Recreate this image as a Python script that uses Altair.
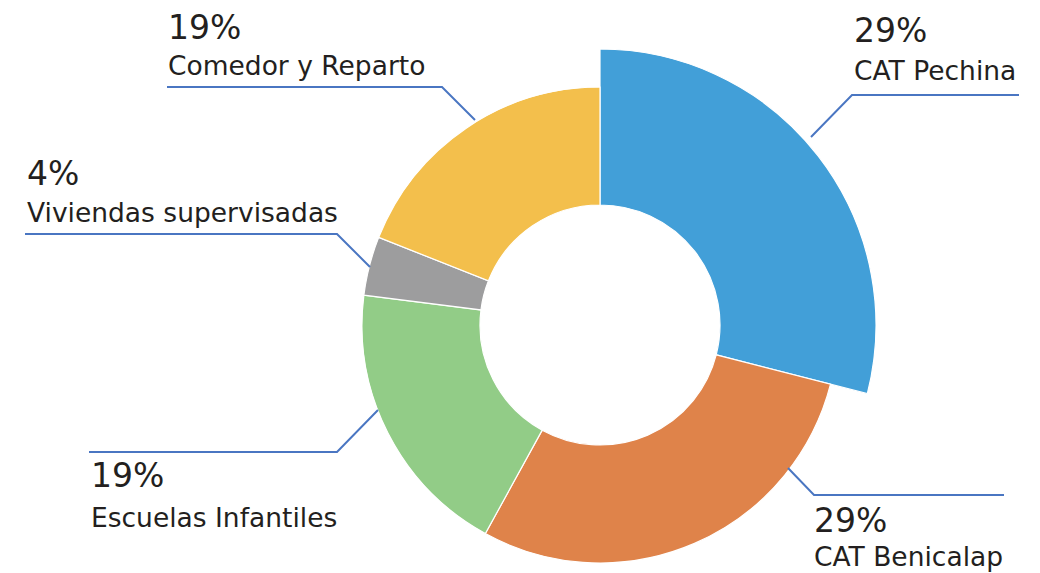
import altair as alt
import pandas as pd

# ---- data ----
categories = ["CAT Pechina", "CAT Benicalap", "Escuelas Infantiles",
              "Viviendas supervisadas", "Comedor y Reparto"]
values = [29, 29, 19, 4, 19]
colors = ["#429FD8", "#DF834A", "#92CC87", "#9D9D9E", "#F3BF4C"]
highlight = "CAT Pechina"

# ---- layout (page pixels; chart drawn with 8px page margin) ----
M = 8
CX, CY = 600 - M, 325 - M
R_IN, R_OUT, R_EXPL = 120, 238, 276

leader_pts = {
    "CAT Pechina": [(811, 137), (852, 95), (1019, 95)],
    "CAT Benicalap": [(788, 468), (814, 495), (1004, 495)],
    "Escuelas Infantiles": [(378, 410), (337, 452), (89, 452)],
    "Viviendas supervisadas": [(370, 267), (337, 234), (25, 234)],
    "Comedor y Reparto": [(475, 120), (442, 87), (167, 87)],
}
text_pos = {  # (x, pct baseline, label baseline)
    "CAT Pechina": (854, 42, 80),
    "CAT Benicalap": (814, 532, 566),
    "Escuelas Infantiles": (91, 487, 527),
    "Viviendas supervisadas": (27, 185, 222),
    "Comedor y Reparto": (168, 39, 75),
}

df = pd.DataFrame({"category": categories, "value": values,
                   "idx": list(range(len(categories)))})

lines = []
for c in categories:
    for i, (x, y) in enumerate(leader_pts[c]):
        lines.append({"category": c, "i": i, "x": x - M, "y": y - M})
lines_df = pd.DataFrame(lines)

pct_rows, lab_rows = [], []
for c, v in zip(categories, values):
    x, yp, yl = text_pos[c]
    pct_rows.append({"t": f"{v}%", "x": x - M, "y": yp - M})
    lab_rows.append({"t": c, "x": x - M, "y": yl - M})
pct_df = pd.DataFrame(pct_rows)
lab_df = pd.DataFrame(lab_rows)

color = alt.Color("category:N", scale=alt.Scale(domain=categories, range=colors), legend=None)
theta = alt.Theta("value:Q", stack=True)
order = alt.Order("idx:Q")

big = alt.Chart(df).mark_arc(innerRadius=R_IN, outerRadius=R_EXPL, stroke="white", strokeWidth=1.2).encode(
    theta=theta, color=color, order=order,
    x=alt.value(CX), y=alt.value(CY),
    opacity=alt.condition(alt.datum.category == highlight, alt.value(1), alt.value(0)),
)
rest = alt.Chart(df).mark_arc(innerRadius=R_IN, outerRadius=R_OUT, stroke="white", strokeWidth=1.2).encode(
    theta=theta, color=color, order=order,
    x=alt.value(CX), y=alt.value(CY),
    opacity=alt.condition(alt.datum.category == highlight, alt.value(0), alt.value(1)),
)

leaders = alt.Chart(lines_df).mark_line(color="#4A76C2", strokeWidth=2).encode(
    x=alt.X("x:Q", scale=None), y=alt.Y("y:Q", scale=None),
    detail="category:N", order="i:Q",
)

font = "DejaVu Sans"
pct = alt.Chart(pct_df).mark_text(align="left", baseline="alphabetic", font=font,
                                  fontSize=33, color="#231F20").encode(
    x=alt.X("x:Q", scale=None), y=alt.Y("y:Q", scale=None), text="t:N")
lab = alt.Chart(lab_df).mark_text(align="left", baseline="alphabetic", font=font,
                                  fontSize=26.5, color="#231F20").encode(
    x=alt.X("x:Q", scale=None), y=alt.Y("y:Q", scale=None), text="t:N")

chart = alt.layer(big, rest, leaders, pct, lab).properties(
    width=1024, height=557, padding=0
).configure_view(stroke=None)

chart.save("out.html", embed_options={"renderer": "svg", "actions": False})
